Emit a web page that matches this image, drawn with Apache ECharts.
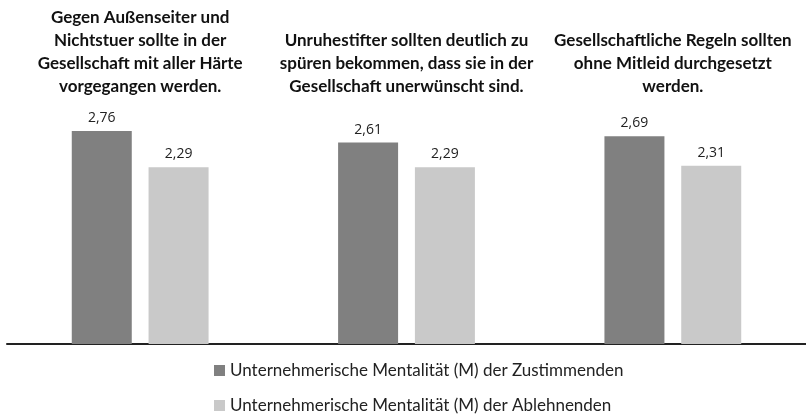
<!DOCTYPE html>
<html>
<head>
<meta charset="utf-8">
<script src="https://cdn.jsdelivr.net/npm/echarts@6/dist/echarts.min.js"></script>
<style>
  html, body { margin: 0; padding: 0; background: #fff; }
  #chart { width: 806px; height: 414px; }
</style>
</head>
<body>
<div id="chart"></div>
<script>
var categories = [
  'Gegen Außenseiter und\nNichtstuer sollte in der\nGesellschaft mit aller Härte\nvorgegangen werden.',
  'Unruhestifter sollten deutlich zu\nspüren bekommen, dass sie in der\nGesellschaft unerwünscht sind.',
  'Gesellschaftliche Regeln sollten\nohne Mitleid durchgesetzt\nwerden.'
];
var seriesNames = [
  'Unternehmerische Mentalität (M) der Zustimmenden',
  'Unternehmerische Mentalität (M) der Ablehnenden'
];
var zustimmend = [2.76, 2.61, 2.69];
var ablehnend = [2.29, 2.29, 2.31];

var myChart = echarts.init(document.getElementById('chart'));

function fmt(p) {
  return p.value.toFixed(2).replace('.', ',');
}

// one legend per row, stacked like the original
function legendRow(name, top) {
  return {
    left: 209,
    top: top,
    itemWidth: 11,
    itemHeight: 11,
    icon: 'rect',
    data: [name],
    textStyle: {
      fontFamily: 'Lato',
      fontSize: 17,
      color: '#222'
    }
  };
}

var barLabel = {
  show: true,
  position: 'top',
  distance: 6,
  formatter: fmt,
  fontFamily: 'Open Sans',
  fontSize: 14,
  color: '#222'
};

var option = {
  animation: false,
  grid: {
    left: 7,
    right: -7,
    top: 97,
    bottom: 70
  },
  legend: [
    legendRow(seriesNames[0], 357),
    legendRow(seriesNames[1], 392)
  ],
  xAxis: [{
    type: 'category',
    data: categories,
    position: 'bottom',
    axisTick: { show: false },
    axisLabel: { show: false },
    axisLine: { lineStyle: { color: '#222', width: 2 } }
  }, {
    type: 'category',
    data: categories,
    position: 'top',
    axisTick: { show: false },
    axisLine: { show: false },
    axisLabel: {
      interval: 0,
      margin: -1,
      fontFamily: 'Lato',
      fontWeight: 'bold',
      fontSize: 17,
      lineHeight: 23,
      color: '#111'
    }
  }],
  yAxis: {
    type: 'value',
    min: 0,
    max: 3.2,
    show: false,
    splitLine: { show: false }
  },
  series: [{
    name: seriesNames[0],
    type: 'bar',
    barWidth: 60,
    barGap: '28%',
    data: zustimmend,
    itemStyle: { color: '#808080' },
    label: barLabel
  }, {
    name: seriesNames[1],
    type: 'bar',
    barWidth: 60,
    data: ablehnend,
    itemStyle: { color: '#c9c9c9' },
    label: barLabel
  }]
};

myChart.setOption(option);
</script>
</body>
</html>
